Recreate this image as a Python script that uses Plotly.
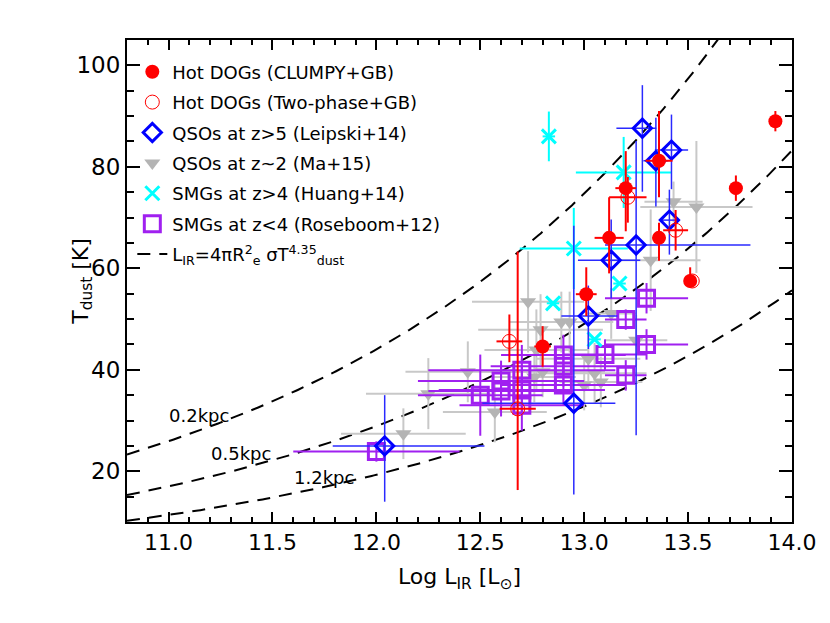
import numpy as np
import plotly.graph_objects as go

# ---------------- data ----------------
# Hot DOGs (CLUMPY+GB)
hd_x = [13.92, 13.73, 13.36, 13.20, 13.12, 13.36, 13.51, 13.01, 12.80]
hd_y = [89.0, 75.8, 81.2, 75.8, 66.0, 66.0, 57.5, 54.9, 44.6]
hd_xerr = [0.02, 0.03, 0.065, 0.05, 0.07, 0.03, 0.02, 0.05, 0.04]
hd_yerr_p = [2.0, 2.5, 9.8, 7.3, 8.0, 3.0, 2.7, 5.3, 4.0]
hd_yerr_m = [2.0, 2.5, 7.2, 8.5, 7.0, 4.5, 0.5, 4.3, 4.0]

# Hot DOGs (Two-phase+GB)
ht_x = [13.21, 13.44, 13.52, 12.64, 12.68]
ht_y = [74.0, 67.5, 57.5, 45.6, 32.3]
ht_xerr = [0.09, 0.06, 0.02, 0.062, 0.087]
ht_yerr_p = [4.0, 4.0, 0.5, 5.3, 31.0]
ht_yerr_m = [5.0, 4.0, 0.5, 4.1, 16.0]

# QSOs at z>5 (Leipski+14)
ql_x = [13.28, 13.42, 13.345, 13.41, 13.25, 13.13, 13.02, 12.95, 12.04]
ql_y = [87.6, 83.3, 81.2, 69.5, 64.6, 61.6, 50.6, 33.4, 25.0]
ql_xerr_p = [0.067, 0.08, 0.06, 0.04, 0.55, 0.14, 0.14, 0.20, 0.48]
ql_xerr_m = [0.125, 0.08, 0.06, 0.05, 0.15, 0.16, 0.13, 0.44, 0.25]
ql_yerr_p = [8.5, 7.0, 8.5, 6.0, 20.5, 8.0, 6.0, 35.0, 10.0]
ql_yerr_m = [12.5, 7.7, 9.0, 6.8, 37.5, 7.5, 6.5, 18.0, 11.0]

# QSOs at z~2 (Ma+15)
qm_x = [13.43, 13.54, 13.32, 13.13, 12.73, 12.89, 12.93, 12.79, 12.77, 12.44,
        12.25, 12.57, 12.80, 13.02, 12.76, 13.05, 13.08, 12.13, 13.25, 13.00]
qm_y = [73.1, 72.1, 61.6, 51.1, 53.4, 49.4, 49.4, 47.9, 43.9, 39.6,
        35.3, 31.7, 39.6, 42.2, 38.6, 39.3, 37.6, 27.4, 45.8, 37.0]
qm_xerr = [0.14, 0.27, 0.24, 0.12, 0.27, 0.25, 0.20, 0.30, 0.25, 0.30,
           0.30, 0.25, 0.30, 0.25, 0.20, 0.25, 0.20, 0.30, 0.15, 0.20]
qm_yerr = [4, 13, 10, 5, 10, 6, 6, 7, 8, 6, 7, 6, 5, 6, 5, 6, 5, 5, 5, 5]

# SMGs at z>4 (Huang+14)
sh_x = [12.83, 13.19, 12.95, 12.85, 13.17, 13.05]
sh_y = [86.0, 78.9, 63.9, 53.1, 57.0, 46.0]
sh_xerr = [0.03, 0.23, 0.26, 0.03, 0.03, 0.03]
sh_yerr = [4.9, 7.0, 8.0, 0.0, 0.0, 0.0]

# SMGs at z<4 (Roseboom+12)
sr_x = [13.30, 13.20, 13.30, 13.10, 13.20, 12.90, 12.90, 12.90, 12.70, 12.60,
        12.60, 12.70, 12.70, 12.50, 12.00]
sr_y = [54.1, 49.9, 45.0, 43.0, 38.9, 42.9, 40.7, 37.0, 39.9, 37.8,
        35.8, 36.0, 33.0, 35.0, 23.9]
sr_xerr = [0.20, 0.10, 0.20, 0.20, 0.10, 0.30, 0.35, 0.30, 0.45, 0.40,
           0.35, 0.40, 0.30, 0.30, 0.40]
sr_yerr = [3, 2, 3, 3, 3, 4, 4, 4, 5, 4, 5, 5, 5, 8, 2]

# model curves: L_IR = 4 pi R_e^2 sigma T^4.35
radii_kpc = [0.2, 0.5, 1.2]
radii_labels = ["0.2kpc", "0.5kpc", "1.2kpc"]
label_x = [11.148, 11.35, 11.749]
label_y = [31.0, 23.5, 18.8]

x_ticks = [11.0, 11.5, 12.0, 12.5, 13.0, 13.5, 14.0]
x_ticktext = ["11.0", "11.5", "12.0", "12.5", "13.0", "13.5", "14.0"]
y_ticks = [20, 40, 60, 80, 100]

# ---------------- figure ----------------
FONT = "DejaVu Sans"
RED = "#ff0000"
BLUE = "#0000ff"
GRAY = "#b4b4b4"
CYAN = "#00ffff"
PURPLE = "#a020f0"

fig = go.Figure()

# model curves
sigma = 5.670e-8
Lsun = 3.828e26
kpc = 3.0857e19
logL = np.linspace(10.8, 14.0, 300)
for i, (r, lab) in enumerate(zip(radii_kpc, radii_labels)):
    T = (10 ** logL * Lsun / (4 * np.pi * (r * kpc) ** 2 * sigma)) ** (1 / 4.35)
    fig.add_trace(go.Scatter(
        x=logL, y=T, mode="lines",
        line=dict(color="black", width=2, dash="13px,9px"),
        name="L<sub>IR</sub>=4πR<sup>2</sup><sub>e</sub> σT<sup>4.35</sup><sub>dust</sub>",
        showlegend=(i == 0), legendrank=7, legendgroup="model",
        hoverinfo="skip"))

fig.add_trace(go.Scatter(
    x=qm_x, y=qm_y, mode="markers", name="QSOs at z~2 (Ma+15)",
    marker=dict(symbol="triangle-down", size=14, color=GRAY),
    error_x=dict(type="data", array=qm_xerr, color="#c8c8c8", thickness=2, width=0),
    error_y=dict(type="data", array=qm_yerr, color="#c8c8c8", thickness=2, width=0),
    legendrank=4, legendgroup="g4"))

fig.add_trace(go.Scatter(
    x=sr_x, y=sr_y, mode="markers", name="SMGs at z<4 (Roseboom+12)",
    marker=dict(symbol="square-open", size=16, color=PURPLE, line=dict(width=3, color=PURPLE)),
    error_x=dict(type="data", array=sr_xerr, color=PURPLE, thickness=2, width=0),
    error_y=dict(type="data", array=sr_yerr, color=PURPLE, thickness=2, width=0),
    legendrank=6, legendgroup="g6"))

fig.add_trace(go.Scatter(
    x=sh_x, y=sh_y, mode="markers", name="SMGs at z>4 (Huang+14)",
    marker=dict(symbol="x-thin-open", size=14, color=CYAN, line=dict(width=3, color=CYAN)),
    error_x=dict(type="data", array=sh_xerr, color=CYAN, thickness=2, width=0),
    error_y=dict(type="data", array=sh_yerr, color=CYAN, thickness=2, width=0),
    legendrank=5, legendgroup="g5"))

fig.add_trace(go.Scatter(
    x=ql_x, y=ql_y, mode="markers", name="QSOs at z>5 (Leipski+14)",
    marker=dict(symbol="diamond-open", size=14, color=BLUE, line=dict(width=3, color=BLUE)),
    error_x=dict(type="data", array=ql_xerr_p, arrayminus=ql_xerr_m, color="#2a2aff", thickness=1.5, width=0),
    error_y=dict(type="data", array=ql_yerr_p, arrayminus=ql_yerr_m, color="#2a2aff", thickness=1.5, width=0),
    legendrank=3, legendgroup="g3"))

fig.add_trace(go.Scatter(
    x=ht_x, y=ht_y, mode="markers", name="Hot DOGs (Two-phase+GB)",
    marker=dict(symbol="circle-open", size=14, color=RED, line=dict(width=1, color=RED)),
    error_x=dict(type="data", array=ht_xerr, color=RED, thickness=2, width=0),
    error_y=dict(type="data", array=ht_yerr_p, arrayminus=ht_yerr_m, color=RED, thickness=2, width=0),
    legendrank=2, legendgroup="g2"))

fig.add_trace(go.Scatter(
    x=hd_x, y=hd_y, mode="markers", name="Hot DOGs (CLUMPY+GB)",
    marker=dict(symbol="circle", size=14, color=RED),
    error_x=dict(type="data", array=hd_xerr, color=RED, thickness=2, width=0),
    error_y=dict(type="data", array=hd_yerr_p, arrayminus=hd_yerr_m, color=RED, thickness=2, width=0),
    legendrank=1, legendgroup="g1"))

for lab, lx, ly in zip(radii_labels, label_x, label_y):
    fig.add_annotation(x=lx, y=ly, text=lab, showarrow=False,
                       font=dict(family=FONT, size=18, color="black"))

# axis titles
fig.add_annotation(xref="paper", yref="paper", x=-0.068, y=0.5, textangle=-90,
                   xanchor="center", yanchor="middle",
                   text="T<sub>dust</sub> [K]", showarrow=False,
                   font=dict(family=FONT, size=22, color="black"))
fig.add_annotation(xref="paper", yref="paper", x=0.5, y=-0.118,
                   xanchor="center", yanchor="middle",
                   text="Log L<sub>IR</sub> [L<sub>⊙</sub>]", showarrow=False,
                   font=dict(family=FONT, size=22, color="black"))

fig.update_xaxes(range=[10.8, 14.0], tickvals=x_ticks, ticktext=x_ticktext,
                 showgrid=False, zeroline=False, showline=True, linecolor="black",
                 linewidth=2, mirror="allticks", ticks="inside", ticklen=10,
                 tickwidth=2, tickcolor="black",
                 minor=dict(ticks="inside", ticklen=5, tickwidth=2, dtick=0.1,
                            tick0=10.8, tickcolor="black", showgrid=False),
                 tickfont=dict(family=FONT, size=22, color="black"))
fig.update_yaxes(range=[10, 105], tickvals=y_ticks,
                 showgrid=False, zeroline=False, showline=True, linecolor="black",
                 linewidth=2, mirror="allticks", ticks="inside", ticklen=13,
                 tickwidth=2, tickcolor="black",
                 minor=dict(ticks="inside", ticklen=7, tickwidth=2, dtick=5,
                            tick0=10, tickcolor="black", showgrid=False),
                 tickfont=dict(family=FONT, size=23, color="black"))

fig.update_layout(
    width=822, height=615,
    margin=dict(l=119, r=38, t=32, b=101),
    paper_bgcolor="white", plot_bgcolor="white",
    font=dict(family=FONT, color="black"),
    legend=dict(x=0.008, y=0.972, xanchor="left", yanchor="top",
                bgcolor="rgba(0,0,0,0)", borderwidth=0,
                font=dict(family=FONT, size=18, color="black"),
                tracegroupgap=4, itemwidth=30),
    showlegend=True,
)

fig.write_html("out.html")
